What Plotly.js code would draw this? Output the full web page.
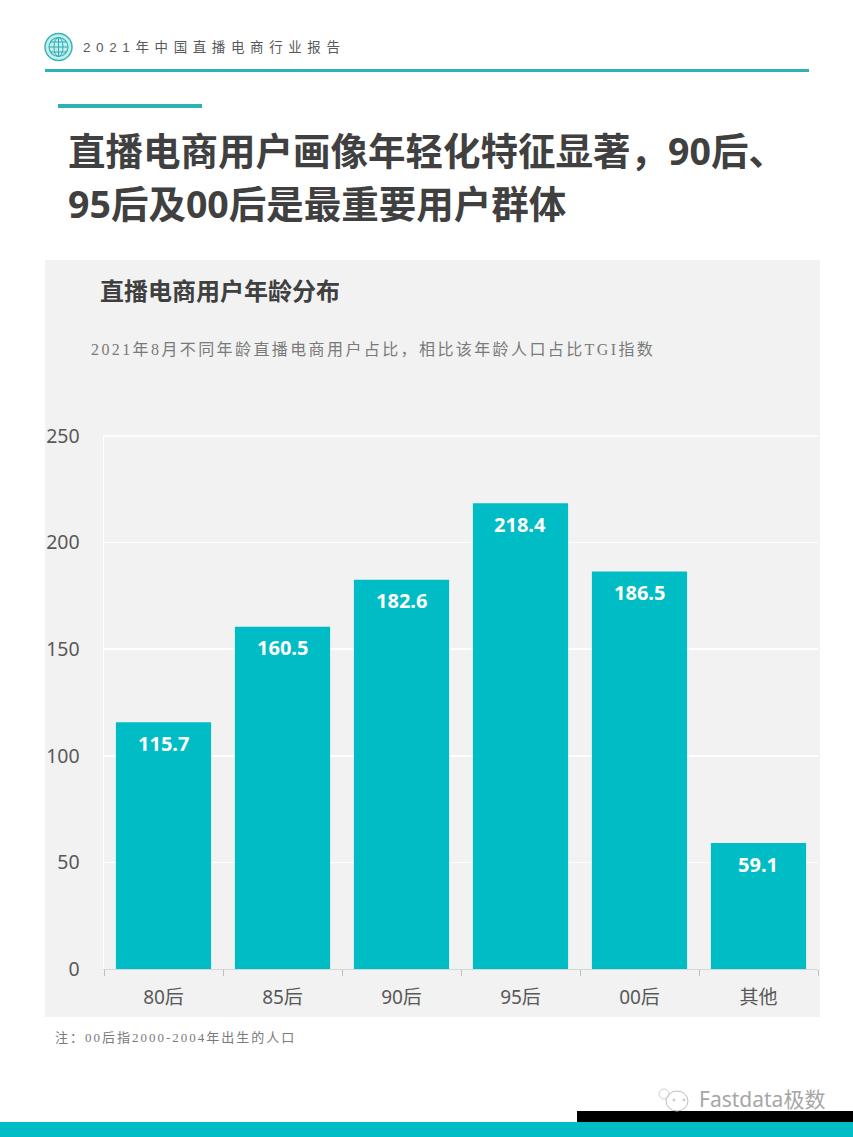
<!DOCTYPE html>
<html>
<head>
<meta charset="utf-8">
<script src="https://cdn.plot.ly/plotly-3.0.1.min.js"></script>
<style>
html,body{margin:0;padding:0;background:#fff;}
#chart{width:853px;height:1137px;}
.annotation[data-index="0"] text{letter-spacing:5.6px;}
.annotation[data-index="4"] text{letter-spacing:2.4px;}
.annotation[data-index="5"] text{letter-spacing:2px;}
</style>
</head>
<body>
<div id="chart"></div>
<script>
const categories = ["80后","85后","90后","95后","00后","其他"];
const values = [115.7,160.5,182.6,218.4,186.5,59.1];
const yTicks = [0,50,100,150,200,250];

const headerText = "2021年中国直播电商行业报告";
const titleLine1 = "直播电商用户画像年轻化特征显著，90后、";
const titleLine2 = "95后及00后是最重要用户群体";
const chartTitle = "直播电商用户年龄分布";
const subtitle = "2021年8月不同年龄直播电商用户占比，相比该年龄人口占比TGI指数";
const footnote = "注：00后指2000-2004年出生的人口";
const watermark = "Fastdata极数";

const W = 853, H = 1137, L = 104, R = 818, T = 436, B = 969;
const X = p => (p - L) / (R - L);
const Y = p => (B - p) / (B - T);
const TEAL = "#00BCC4", LINE = "#2BB3B3";
const SANS = '"Noto Sans","Noto Sans CJK SC",sans-serif';
const SERIF = '"Liberation Serif","Noto Sans CJK SC",serif';
const HEAD = '"Liberation Sans","Noto Sans CJK SC",sans-serif';

const rect = (x0,y0,x1,y1,c) => ({type:"rect",xref:"paper",yref:"paper",x0:X(x0),x1:X(x1),y0:Y(y1),y1:Y(y0),fillcolor:c,line:{width:0},layer:"below"});
const circ = (cx,cy,rx,ry,c,w,fill) => ({type:"circle",xref:"paper",yref:"paper",x0:X(cx-rx),x1:X(cx+rx),y0:Y(cy+ry),y1:Y(cy-ry),fillcolor:fill||"rgba(0,0,0,0)",line:{color:c,width:w},layer:"below"});
const seg = (x0,y0,x1,y1,c,w) => ({type:"line",xref:"paper",yref:"paper",x0:X(x0),x1:X(x1),y0:Y(y0),y1:Y(y1),line:{color:c,width:w},layer:"below"});

const shapes = [
  rect(45,260,820,1017,"#F2F2F2"),
  rect(45,69,809,72,LINE),
  rect(58,104,202,108,LINE),
  rect(0,1122,853,1137,TEAL),
  rect(577,1111,853,1122,"#000000"),
  seg(103,436,818,436,"#FFFFFF",1.5),
  circ(58.5,47,13.5,13.5,"#35B8B8",1.5,"#C6ECEC"),
  circ(58.5,47,9.5,9.5,"#2AB0B0",1.1),
  circ(58.5,47,4.5,9.5,"#2AB0B0",1),
  seg(49,47,68,47,"#2AB0B0",1),
  seg(50,42,67,42,"#2AB0B0",1),
  seg(50,52,67,52,"#2AB0B0",1),
  seg(58.5,37.5,58.5,56.5,"#2AB0B0",1),
  circ(677,1101,11,10,"#BDBDBD",1),
  circ(664,1094,5,5,"#D0D0D0",1),
  circ(674,1100,1,1,"#BDBDBD",1),
  circ(684,1100,1,1,"#BDBDBD",1)
];

const note = (text,x,y,size,color,family,bold) => ({
  text, xref:"paper", yref:"paper", x:X(x), y:Y(y), xanchor:"left", yanchor:"middle", align:"left",
  showarrow:false, font:{size,color,family,weight:bold?"bold":"normal"}
});

const annotations = [
  note(headerText,81,47,13.5,"#595959",HEAD),
  note(titleLine1,66,150,37.5,"#404040",SANS,true),
  note(titleLine2,66,204,37.5,"#404040",SANS,true),
  note(chartTitle,98,290.5,24,"#404040",SANS,true),
  note(subtitle,89,349,16,"#7A7A7A",SERIF),
  note(footnote,53,1037,13,"#7A7A7A",SERIF),
  note(watermark,697,1099,21,"#A6A6A6",SANS),
  ...categories.map((c,i) => ({
    text:values[i].toFixed(1), x:c, y:values[i], xref:"x", yref:"y", yshift:-21, xshift:-0.5, yanchor:"middle",
    showarrow:false, font:{size:20,color:"#FFFFFF",family:SANS,weight:"bold"}
  }))
];

const data = [{
  type:"bar", x:categories, y:values, marker:{color:TEAL,line:{width:0}}, width:0.8, hoverinfo:"x+y"
}];

const layout = {
  width:W, height:H, margin:{l:L,r:W-R,t:T,b:H-B,pad:0},
  paper_bgcolor:"#FFFFFF", plot_bgcolor:"rgba(0,0,0,0)", showlegend:false,
  xaxis:{type:"category",categoryorder:"array",categoryarray:categories,tickson:"boundaries",ticks:"outside",ticklen:6,tickcolor:"#BFBFBF",tickwidth:1,
         showline:true,linecolor:"#D0D8D8",linewidth:1,showgrid:false,zeroline:false,
         tickfont:{size:19,color:"#595959",family:SANS},ticklabelstandoff:11},
  yaxis:{range:[0,250],tickvals:yTicks,ticktext:yTicks.map(String),showline:true,linecolor:"#FFFFFF",linewidth:1.5,showgrid:true,gridcolor:"#FFFFFF",gridwidth:1.5,zeroline:false,ticks:"",
         tickfont:{size:19.5,color:"#595959",family:SANS},ticklabelstandoff:19},
  shapes, annotations
};
Plotly.newPlot("chart",data,layout,{displayModeBar:false,staticPlot:true});
</script>
</body>
</html>
